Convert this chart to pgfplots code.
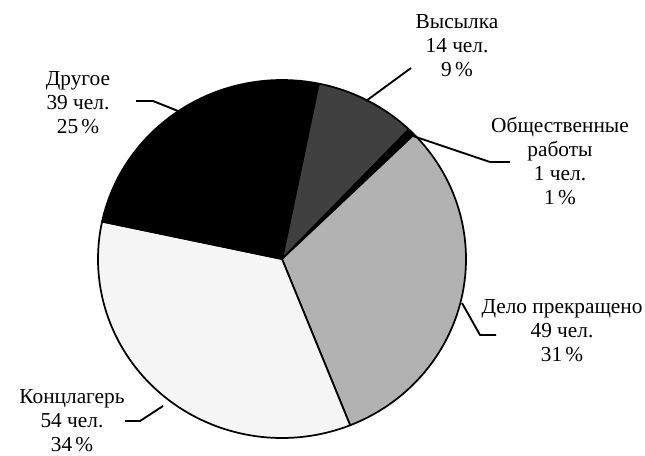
\documentclass[border=0pt]{standalone}
\usepackage{fontspec}
\setmainfont{Liberation Serif}
\usepackage{pgfplots}
\pgfplotsset{compat=1.18}
\begin{document}
\begin{tikzpicture}
% data: counts per category
\def\nVys{14}\def\nObs{1}\def\nDelo{49}\def\nKonc{54}\def\nDrug{39}
\pgfmathsetmacro\total{\nVys+\nObs+\nDelo+\nKonc+\nDrug}
\pgfmathsetmacro\deg{360/\total}
\pgfmathsetmacro\aO{78.5}
\pgfmathsetmacro\aA{\aO-\deg*\nVys}
\pgfmathsetmacro\aB{\aA-\deg*\nObs}
\pgfmathsetmacro\aC{\aB-\deg*\nDelo}
\pgfmathsetmacro\aD{\aC-\deg*\nKonc}
\pgfmathsetmacro\aE{\aD-\deg*\nDrug}
\def\cx{282}\def\cy{-259}\def\rx{184}\def\ry{179}
\begin{axis}[
  width=483.75pt, height=341.25pt, scale only axis,
  xmin=0, xmax=645, ymin=-455, ymax=0,
  hide axis, clip=false,
  every axis plot/.append style={line join=round},
]
\path (axis cs:0,0) rectangle (axis cs:645,-455);
% slices
\addplot[fill=black!75, draw=black, line width=1.3pt, domain=\aA:\aO, samples=40, variable=\t]
  ({\cx+\rx*cos(\t)},{\cy+\ry*sin(\t)}) -- (axis cs:\cx,\cy) -- cycle;
\addplot[fill=black, draw=black, line width=1.3pt, domain=\aB:\aA, samples=5, variable=\t]
  ({\cx+\rx*cos(\t)},{\cy+\ry*sin(\t)}) -- (axis cs:\cx,\cy) -- cycle;
\addplot[fill=black!30, draw=black, line width=1.3pt, domain=\aC:\aB, samples=80, variable=\t]
  ({\cx+\rx*cos(\t)},{\cy+\ry*sin(\t)}) -- (axis cs:\cx,\cy) -- cycle;
\addplot[fill=black!4, draw=black, line width=1.3pt, domain=\aD:\aC, samples=80, variable=\t]
  ({\cx+\rx*cos(\t)},{\cy+\ry*sin(\t)}) -- (axis cs:\cx,\cy) -- cycle;
\addplot[fill=black, draw=black, line width=1.3pt, domain=\aE:\aD, samples=60, variable=\t]
  ({\cx+\rx*cos(\t)},{\cy+\ry*sin(\t)}) -- (axis cs:\cx,\cy) -- cycle;
% leader lines
\addplot[black, line width=1.4pt, mark=none] coordinates {(136,-101) (153,-101) (178,-111)};
\addplot[black, line width=1.4pt, mark=none] coordinates {(411,-68) (366,-101)};
\addplot[black, line width=1.4pt, mark=none] coordinates {(510,-162) (490,-162) (413,-136)};
\addplot[black, line width=1.4pt, mark=none] coordinates {(496,-335) (480,-335) (462,-303)};
\addplot[black, line width=1.4pt, mark=none] coordinates {(125,-421) (140,-421) (163,-406)};
% labels
\tikzset{lbl/.style={align=center, inner sep=0pt, font=\fontsize{16}{18}\selectfont}}
\node[lbl] at (axis cs:78,-103) {Другое\\39 чел.\\25\hspace{0.15em}\%};
\node[lbl] at (axis cs:457,-46) {Высылка\\14 чел.\\9\hspace{0.15em}\%};
\node[lbl] at (axis cs:560,-161) {Общественные\\работы\\1 чел.\\1\hspace{0.15em}\%};
\node[lbl] at (axis cs:562,-331) {Дело прекращено\\49 чел.\\31\hspace{0.15em}\%};
\node[lbl] at (axis cs:72,-421) {Концлагерь\\54 чел.\\34\hspace{0.15em}\%};
\end{axis}
\end{tikzpicture}
\end{document}
